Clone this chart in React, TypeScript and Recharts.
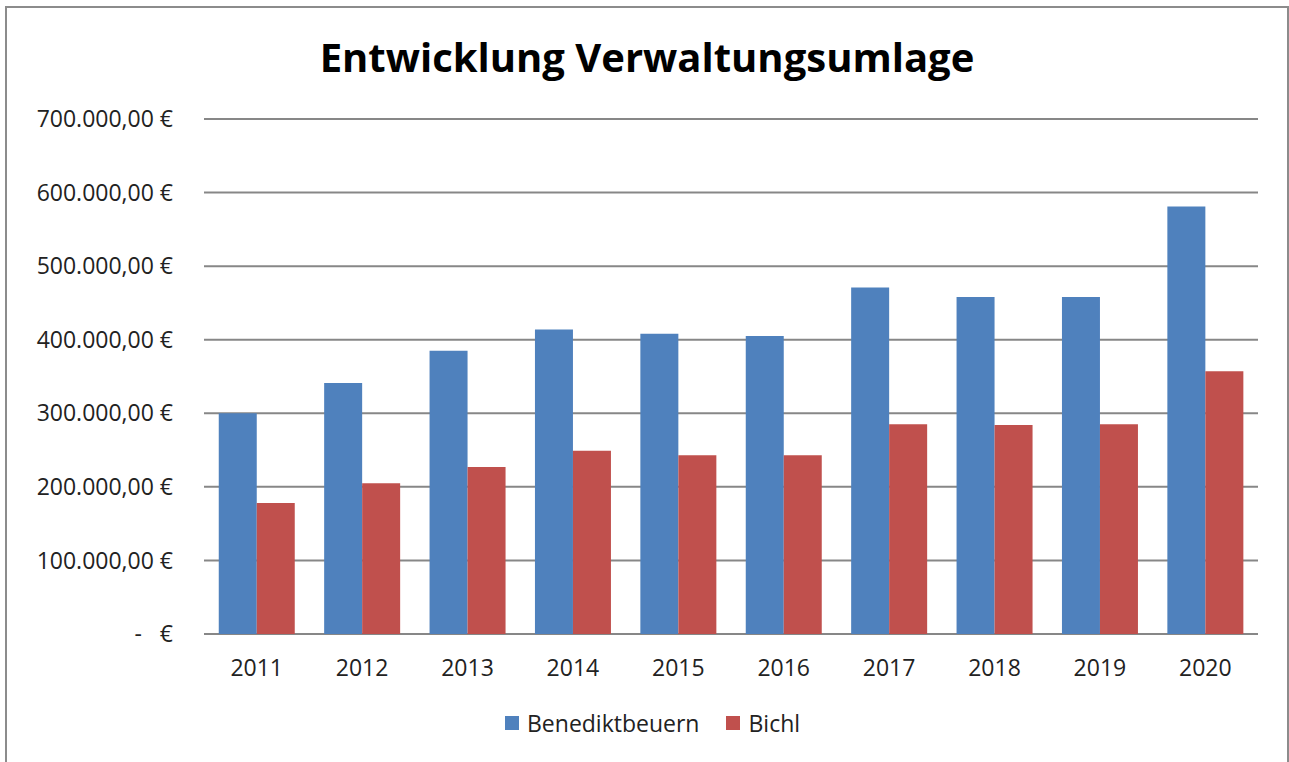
import React from 'react';
import { Bar, BarChart, CartesianGrid, XAxis, YAxis } from 'recharts';

const years = ['2011', '2012', '2013', '2014', '2015', '2016', '2017', '2018', '2019', '2020'];
const benediktbeuern = [300000, 341000, 385000, 414000, 408000, 405000, 471000, 458000, 458000, 581000];
const bichl = [178000, 205000, 227000, 249000, 243000, 243000, 285000, 284000, 285000, 357000];
const yTicks = [0, 100000, 200000, 300000, 400000, 500000, 600000, 700000];

const BLUE = '#4F81BD';
const RED = '#C0504D';
const FONT = '"Open Sans", sans-serif';

const data = years.map((y, i) => ({ year: y, benediktbeuern: benediktbeuern[i], bichl: bichl[i] }));

function euro(v: number) {
  if (v === 0) return '-\u00A0\u00A0\u00A0€';
  const s = Math.round(v).toString().replace(/\B(?=(\d{3})+(?!\d))/g, '.');
  return `${s},00\u00A0€`;
}

function Legend() {
  const item = (color: string, label: string, gap: number) => (
    <div style={{ display: 'flex', alignItems: 'center', marginRight: gap }}>
      <div style={{ width: 14, height: 14, background: color, marginRight: 8 }} />
      <span>{label}</span>
    </div>
  );
  return (
    <div
      style={{
        position: 'absolute',
        left: 505,
        top: 707,
        display: 'flex',
        fontFamily: FONT,
        fontSize: 23,
        color: '#222',
      }}
    >
      {item(BLUE, 'Benediktbeuern', 27)}
      {item(RED, 'Bichl', 0)}
    </div>
  );
}

export default function App() {
  return (
    <div style={{ position: 'fixed', left: 0, top: 0, width: 1289, height: 762, background: '#fff' }}>
      <div
        style={{
          position: 'absolute',
          left: 5,
          top: 6,
          width: 1280,
          height: 770,
          border: '2px solid #8c8c8c',
        }}
      />
      <div
        style={{
          position: 'absolute',
          left: 0,
          top: 29,
          width: 1294,
          textAlign: 'center',
          fontFamily: FONT,
          fontWeight: 700,
          fontSize: 40,
          color: '#000',
        }}
      >
        Entwicklung Verwaltungsumlage
      </div>
      <div style={{ position: 'absolute', left: 0, top: 0 }}>
        <BarChart
          width={1289}
          height={762}
          data={data}
          margin={{ top: 119, right: 31, left: 0, bottom: 0 }}
          barCategoryGap="14%"
          barGap={0}
        >
          <CartesianGrid vertical={false} stroke="#878787" strokeWidth={2} />
          <XAxis
            dataKey="year"
            axisLine={false}
            tickLine={false}
            tickSize={0}
            tickMargin={26}
            height={128}
            tick={{ fontSize: 23, fill: '#222', fontFamily: FONT }}
          />
          <YAxis
            width={204}
            domain={[0, 700000]}
            ticks={yTicks}
            interval={0}
            axisLine={false}
            tickLine={false}
            tickSize={0}
            tickMargin={31}
            tickFormatter={euro}
            tick={{ fontSize: 23, fill: '#222', fontFamily: FONT }}
          />
          <Bar dataKey="benediktbeuern" fill={BLUE} isAnimationActive={false} />
          <Bar dataKey="bichl" fill={RED} isAnimationActive={false} />
        </BarChart>
      </div>
      <Legend />
    </div>
  );
}
